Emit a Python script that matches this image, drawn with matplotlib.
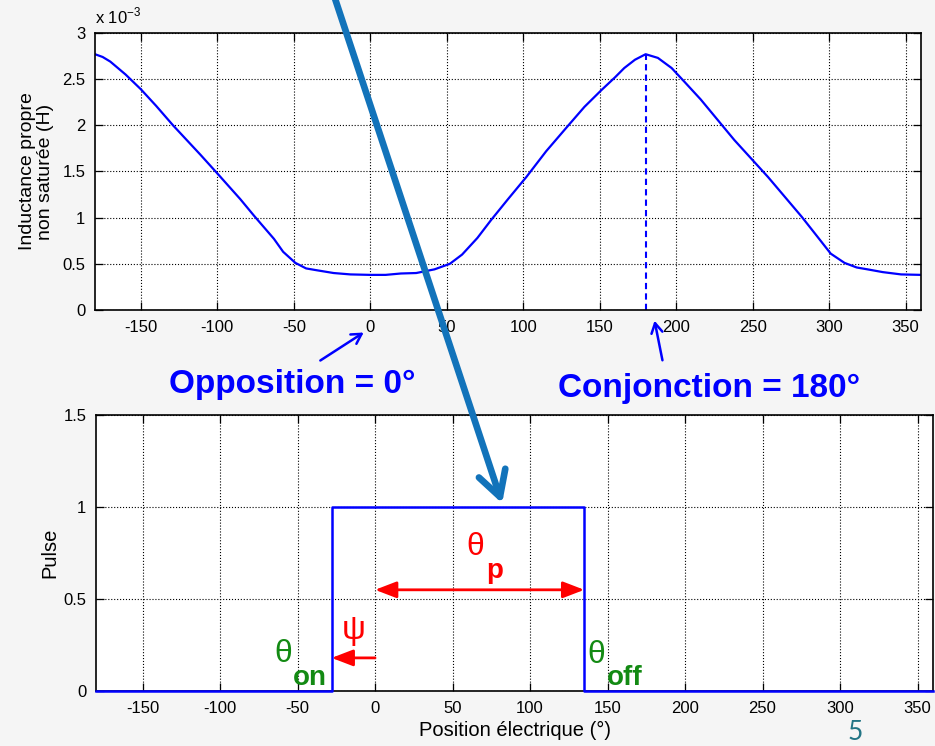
import matplotlib.pyplot as plt
from matplotlib.patches import FancyArrowPatch

plt.rcParams['font.family'] = ['Liberation Sans', 'DejaVu Sans']
plt.rcParams['axes.unicode_minus'] = False

# inductance vs electrical position (values in mH)
angle = [-180, -175, -170, -165, -160, -150, -140, -129, -111, -99, -85, -76, -63, -57,
         -49, -42, -35, -24, -13, 0, 10, 20, 30, 42, 52, 60, 70, 79, 90, 102, 115, 129,
         140, 151, 160, 166, 173, 180, 188, 197, 206, 216, 238, 260, 282, 292, 301, 310,
         318, 325, 335, 347, 360]
induct = [2.77, 2.74, 2.69, 2.62, 2.55, 2.39, 2.21, 2.00, 1.68, 1.46, 1.20, 1.02, 0.77, 0.63,
          0.51, 0.45, 0.43, 0.40, 0.385, 0.38, 0.38, 0.395, 0.40, 0.44, 0.50, 0.60, 0.78, 0.975,
          1.20, 1.44, 1.72, 1.99, 2.20, 2.38, 2.52, 2.62, 2.71, 2.77, 2.73, 2.62, 2.46, 2.28,
          1.84, 1.44, 1.01, 0.80, 0.61, 0.51, 0.46, 0.44, 0.41, 0.385, 0.38]

theta_on = -28
theta_off = 135
pulse_x = [-180, theta_on, theta_on, theta_off, theta_off, 360]
pulse_y = [0, 0, 1, 1, 0, 0]

xticks = [-150, -100, -50, 0, 50, 100, 150, 200, 250, 300, 350]

fig = plt.figure(figsize=(9.35, 7.46), dpi=100)
fig.patch.set_facecolor('#f5f5f5')

ax1 = fig.add_axes([0.1016, 0.5845, 0.8834, 0.3713])
ax2 = fig.add_axes([0.1027, 0.0737, 0.8952, 0.3700])


def matlab_style(ax):
    ax.grid(True, color='black', linestyle=':', linewidth=0.8)
    ax.tick_params(direction='in', top=True, right=True, length=5.5, width=0.9,
                   labelsize=12, pad=7)
    for s in ax.spines.values():
        s.set_linewidth(1.2)
    ax.set_xlim(-180, 360)
    ax.set_xticks(xticks)


# top: inductance
ax1.plot(angle, induct, color='#0000ff', lw=1.6)
ax1.plot([180, 180], [0, max(induct)], color='#0000ff', lw=1.5, ls=(0, (3, 2)))
matlab_style(ax1)
ax1.set_ylim(0, 3)
ax1.set_yticks([0, 0.5, 1, 1.5, 2, 2.5, 3])
ax1.set_yticklabels(['0', '0.5', '1', '1.5', '2', '2.5', '3'])
ax1.set_ylabel('Inductance propre\nnon saturée (H)', fontsize=14, linespacing=1.05, labelpad=6)
ax1.text(0.0, 1.025, r'x 10$^{\mathregular{-3}}$', transform=ax1.transAxes, fontsize=12,
         ha='left', va='bottom')

# bottom: pulse
ax2.plot(pulse_x, pulse_y, color='#0000ff', lw=1.8, clip_on=False, zorder=5)
matlab_style(ax2)
ax2.set_ylim(0, 1.5)
ax2.set_yticks([0, 0.5, 1, 1.5])
ax2.set_yticklabels(['0', '0.5', '1', '1.5'])
ax2.set_ylabel('Pulse', fontsize=14.5, labelpad=3)
ax2.set_xlabel('Position électrique (°)', fontsize=14.5, labelpad=4)

red = '#ff0000'
green = '#138a13'
ax2.annotate('', xy=(0, 0.55), xytext=(theta_off, 0.55),
             arrowprops=dict(arrowstyle='<|-|>,head_length=1.3,head_width=0.5', color=red, lw=2,
                             shrinkA=0, shrinkB=0))
ax2.annotate('', xy=(theta_on, 0.18), xytext=(0, 0.18),
             arrowprops=dict(arrowstyle='-|>,head_length=1.3,head_width=0.5', color=red, lw=2,
                             shrinkA=0, shrinkB=0))
ax2.text(64.7, 0.78, 'θ', color=red, fontsize=23, ha='center', va='center')
ax2.text(77, 0.615, 'p', color=red, fontsize=20, fontweight='bold', ha='center', va='baseline')
ax2.text(-14, 0.33, 'ψ', color=red, fontsize=24, ha='center', va='center')
ax2.text(-59, 0.2, 'θ', color=green, fontsize=23, ha='center', va='center')
ax2.text(-42, 0.035, 'on', color=green, fontsize=20, fontweight='bold', ha='center', va='baseline')
ax2.text(143, 0.195, 'θ', color=green, fontsize=23, ha='center', va='center')
ax2.text(161, 0.035, 'off', color=green, fontsize=20, fontweight='bold', ha='center', va='baseline')

# labels between the two plots
blue = '#0000ff'
fig.text(0.3123, 0.4732, 'Opposition = 0°', color=blue, fontsize=24, fontweight='bold',
         ha='center', va='baseline')
fig.text(0.7578, 0.4678, 'Conjonction = 180°', color=blue, fontsize=24, fontweight='bold',
         ha='center', va='baseline')
fig.add_artist(FancyArrowPatch((318 / 935, 1 - 362 / 746), (366 / 935, 1 - 331 / 746),
                               transform=fig.transFigure, arrowstyle='->,head_length=7,head_width=4',
                               color=blue, lw=1.8, mutation_scale=1))
fig.add_artist(FancyArrowPatch((663 / 935, 1 - 363 / 746), (654 / 935, 1 - 318 / 746),
                               transform=fig.transFigure, arrowstyle='->,head_length=7,head_width=4',
                               color=blue, lw=1.8, mutation_scale=1))

# big arrow crossing both plots
fig.add_artist(FancyArrowPatch((333 / 935, 1.01), (503 / 935, 1 - 506 / 746),
                               transform=fig.transFigure, arrowstyle='->,head_length=18,head_width=10',
                               color='#1273ba', lw=4.8, mutation_scale=1, zorder=10,
                               capstyle='round', joinstyle='round'))

fig.text(855 / 935, 1 - 733 / 746, '5', color='#237585', fontsize=19, family='Lato',
         ha='center', va='center')

fig.savefig('out.png', dpi=100, facecolor=fig.get_facecolor())
